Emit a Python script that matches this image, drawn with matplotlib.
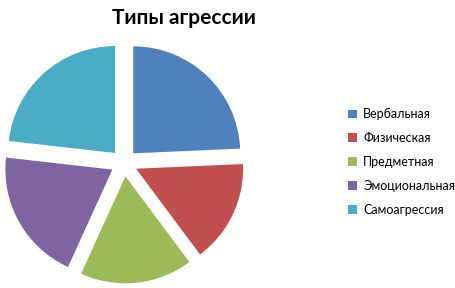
import matplotlib
matplotlib.use("Agg")
import matplotlib.pyplot as plt

title = "Типы агрессии"
categories = ["Вербальная", "Физическая", "Предметная", "Эмоциональная", "Самоагрессия"]
values = [24.3, 15.5, 17.0, 20.0, 23.2]
colors = ["#4F81BD", "#C0504D", "#9BBB59", "#8064A2", "#4BACC6"]

plt.rcParams['font.family'] = ['Lato', 'DejaVu Sans']

fig = plt.figure(figsize=(4.55, 2.88), dpi=100)
ax = fig.add_axes([0, 0, 248/455, 250/288])
wedges, _ = ax.pie(values, colors=colors, startangle=90, counterclock=False,
                   explode=[0.125]*len(values), radius=1.0)
ax.set_xlim(-1.159, 1.159)
ax.set_ylim(-1.168, 1.168)
ax.set_aspect('equal')
ax.axis('off')

fig.text(184/455, 1 - 18/288, title, ha='center', va='center', fontsize=15, fontweight='bold')

leg = fig.legend(wedges, categories, loc='center left', bbox_to_anchor=(337/455, 1 - 162/288),
                 frameon=False, fontsize=9, handlelength=0.7, handleheight=0.7,
                 handletextpad=0.5, labelspacing=0.95)

fig.savefig("out.png", dpi=100)
